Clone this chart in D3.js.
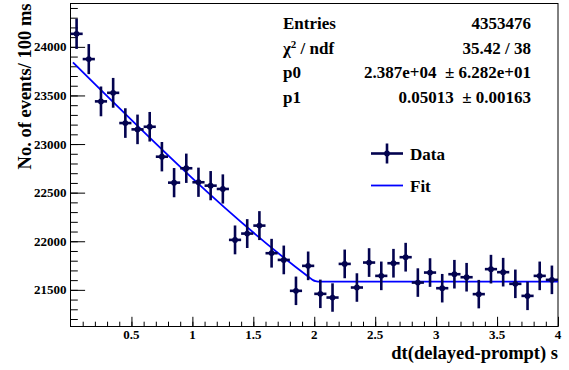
<!DOCTYPE html>
<html>
<head>
<meta charset="utf-8">
<script src="https://cdn.jsdelivr.net/npm/d3@7"></script>
<style>
  html, body { margin: 0; padding: 0; background: #fff; }
  svg { display: block; }
  text { font-family: "Liberation Serif", "Times New Roman", serif; font-weight: bold; fill: #000; }
</style>
</head>
<body>
<svg id="chart" width="569" height="370"></svg>
<script>
// ---- data ----
const binCenters = [0.05,0.15,0.25,0.35,0.45,0.55,0.65,0.75,0.85,0.95,
                    1.05,1.15,1.25,1.35,1.45,1.55,1.65,1.75,1.85,1.95,
                    2.05,2.15,2.25,2.35,2.45,2.55,2.65,2.75,2.85,2.95,
                    3.05,3.15,3.25,3.35,3.45,3.55,3.65,3.75,3.85,3.95];
const counts = [24134,23874,23439,23527,23216,23151,23178,22870,22603,22751,
                22607,22572,22538,22014,22079,22161,21877,21808,21490,21747,
                21459,21421,21767,21524,21781,21644,21774,21836,21575,21678,
                21517,21661,21630,21456,21713,21682,21562,21438,21644,21603];
const binHalfWidth = 0.05;
const fitX = [0.02, 1.96, 1.99, 2.01, 2.03, 4.0];
const fitY = [23840, 21628, 21600, 21589, 21585, 21585];
const xTickValues = [0.5, 1, 1.5, 2, 2.5, 3, 3.5, 4];
const yTickValues = [21500, 22000, 22500, 23000, 23500, 24000];
const statLabels = ["Entries", "χ2 / ndf", "p0", "p1"];
const statValues = ["4353476", "35.42 / 38", "2.387e+04  \u00b1 6.282e+01", "0.05013  \u00b1 0.00163"];
const legendLabels = ["Data", "Fit"];
const xTitle = "dt(delayed-prompt) s";
const yTitle = "No. of events/ 100 ms";

// ---- layout ----
const L = 70.5, R = 558, T = 3.5, B = 326.5;
const dataColor = "#03034f";
const fitColor = "#0000ff";

const svg = d3.select("#chart");
const x = d3.scaleLinear().domain([0, 4]).range([L, R]);
const y = d3.scaleLinear().domain([21123, 24446]).range([B, T]);

// frame
svg.append("rect").attr("x", L).attr("y", T).attr("width", R - L).attr("height", B - T)
  .attr("fill", "none").attr("stroke", "#000").attr("stroke-width", 1);

// x axis ticks (inside)
const xMinor = d3.range(1, 40).map(i => i / 10);
const xAxis = d3.axisTop(x).tickValues(xMinor).tickSize(4.8).tickFormat("");
const gxm = svg.append("g").attr("transform", `translate(0,${B})`).call(xAxis);
gxm.select(".domain").remove();
const xMaj = d3.axisTop(x).tickValues(xTickValues).tickSize(9.7).tickFormat("");
const gx = svg.append("g").attr("transform", `translate(0,${B})`).call(xMaj);
gx.select(".domain").remove();
svg.selectAll("g line").attr("stroke", "#000").attr("stroke-width", 1);
// x labels
svg.append("g").selectAll("text").data(xTickValues).join("text")
  .attr("x", d => x(d)).attr("y", 339).attr("text-anchor", "middle")
  .attr("font-size", 13).text(d => d3.format("")(d));

// y axis ticks (inside)
const yMinor = d3.range(21200, 24401, 100);
const yAxisMinor = d3.axisRight(y).tickValues(yMinor).tickSize(7.3).tickFormat("");
const gym = svg.append("g").attr("transform", `translate(${L},0)`).call(yAxisMinor);
gym.select(".domain").remove();
const yAxisMaj = d3.axisRight(y).tickValues(yTickValues).tickSize(14.6).tickFormat("");
const gy = svg.append("g").attr("transform", `translate(${L},0)`).call(yAxisMaj);
gy.select(".domain").remove();
svg.selectAll("g line").attr("stroke", "#000").attr("stroke-width", 1);
svg.append("g").selectAll("text").data(yTickValues).join("text")
  .attr("x", 66.5).attr("y", d => y(d) + 4.5).attr("text-anchor", "end")
  .attr("font-size", 13).text(d => d);

// axis titles
svg.append("text").attr("x", R).attr("y", 359).attr("text-anchor", "end")
  .attr("font-size", 18.5).text(xTitle);
svg.append("text").attr("transform", `translate(31,${T}) rotate(-90)`)
  .attr("text-anchor", "end").attr("font-size", 18.5).text(yTitle);

// fit line
const line = d3.line().x(d => x(d[0])).y(d => y(d[1])).curve(d3.curveMonotoneX);
svg.append("path").datum(fitX.map((v, i) => [v, fitY[i]]))
  .attr("d", line).attr("fill", "none").attr("stroke", fitColor).attr("stroke-width", 1.8);

// data points with error bars
const pts = binCenters.map((c, i) => ({ x: c, y: counts[i], e: Math.sqrt(counts[i]) }));
const gp = svg.append("g");
gp.selectAll("line.h").data(pts).join("line").attr("class", "h")
  .attr("x1", d => x(d.x - binHalfWidth)).attr("x2", d => x(d.x + binHalfWidth))
  .attr("y1", d => y(d.y)).attr("y2", d => y(d.y))
  .attr("stroke", dataColor).attr("stroke-width", 2.6);
gp.selectAll("line.v").data(pts).join("line").attr("class", "v")
  .attr("x1", d => x(d.x)).attr("x2", d => x(d.x))
  .attr("y1", d => y(d.y - d.e)).attr("y2", d => y(d.y + d.e))
  .attr("stroke", dataColor).attr("stroke-width", 2.6);
gp.selectAll("circle").data(pts).join("circle")
  .attr("cx", d => x(d.x)).attr("cy", d => y(d.y)).attr("r", 2.9)
  .attr("fill", dataColor);

// stats box (text only)
const statY = [29, 53.5, 78, 102.5];
const gs = svg.append("g");
statLabels.forEach((lab, i) => {
  const t = gs.append("text").attr("x", 283).attr("y", statY[i]).attr("font-size", 17);
  if (i === 1) {
    t.append("tspan").text("χ");
    t.append("tspan").attr("font-size", 11).attr("dy", -6).text("2");
    t.append("tspan").attr("dy", 6).text(" / ndf");
  } else {
    t.text(lab);
  }
  gs.append("text").attr("x", 531).attr("y", statY[i]).attr("font-size", 17)
    .attr("text-anchor", "end").style("white-space", "pre").text(statValues[i]);
});

// legend
const lg = svg.append("g");
lg.append("line").attr("x1", 371).attr("x2", 403).attr("y1", 153.5).attr("y2", 153.5)
  .attr("stroke", dataColor).attr("stroke-width", 2.6);
lg.append("line").attr("x1", 387).attr("x2", 387).attr("y1", 143.5).attr("y2", 163.5)
  .attr("stroke", dataColor).attr("stroke-width", 2.6);
lg.append("circle").attr("cx", 387).attr("cy", 153.5).attr("r", 2.9).attr("fill", dataColor);
lg.append("text").attr("x", 410).attr("y", 160).attr("font-size", 17).text(legendLabels[0]);
lg.append("line").attr("x1", 371).attr("x2", 403).attr("y1", 185.5).attr("y2", 185.5)
  .attr("stroke", fitColor).attr("stroke-width", 1.8);
lg.append("text").attr("x", 410).attr("y", 191.5).attr("font-size", 17).text(legendLabels[1]);
</script>
</body>
</html>
